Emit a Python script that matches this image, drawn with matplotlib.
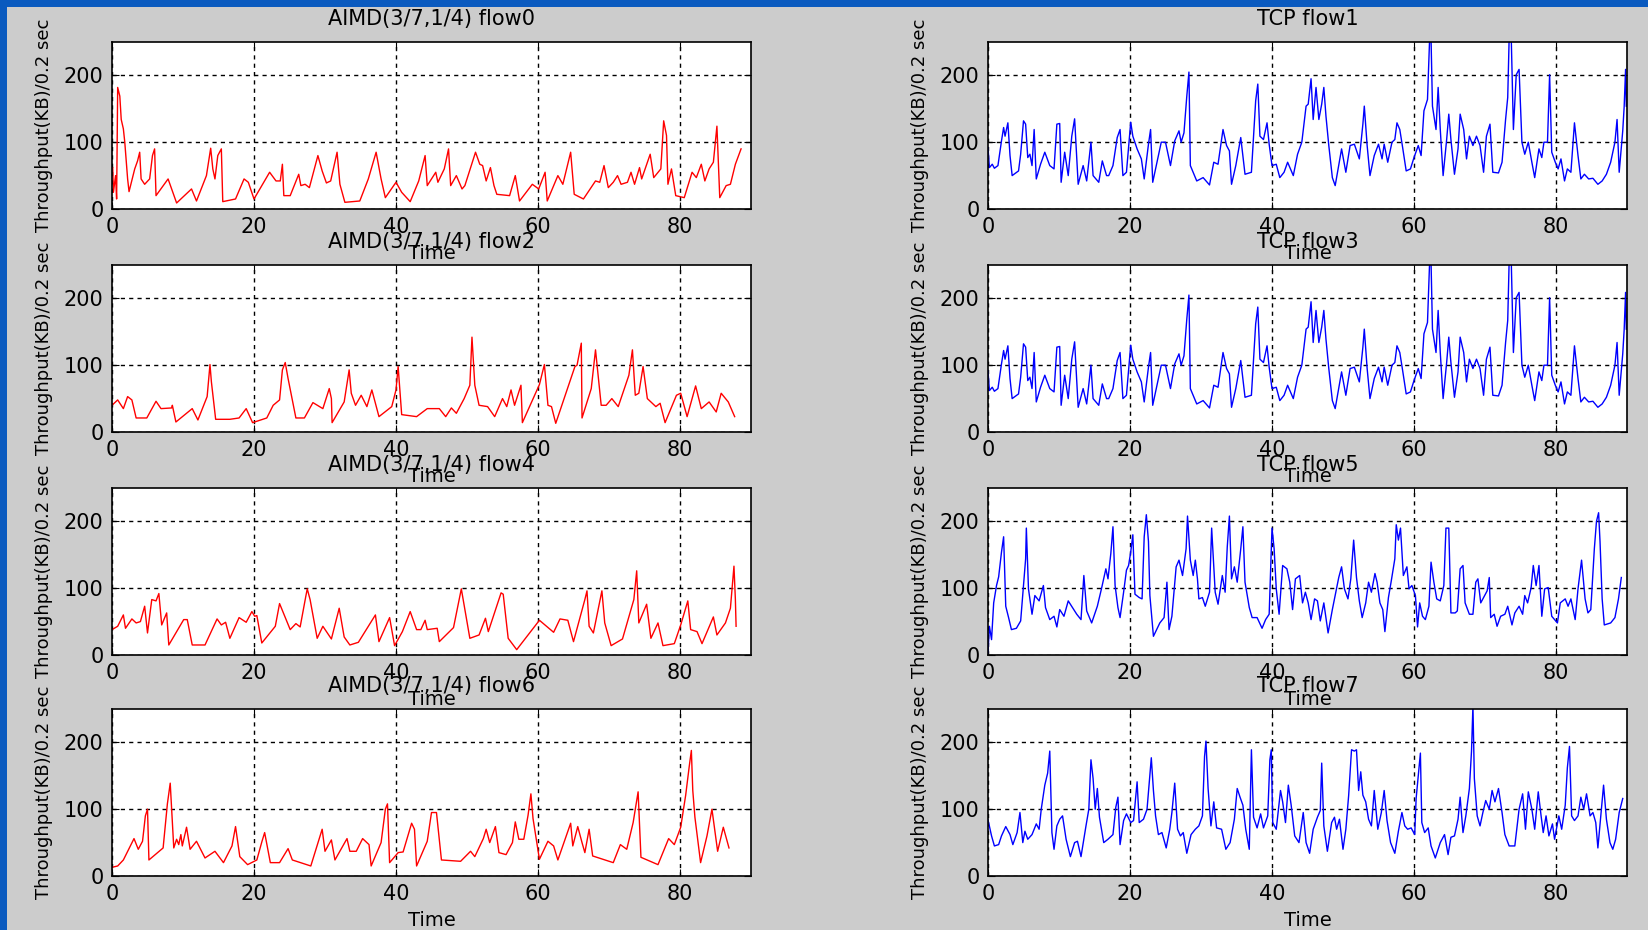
import numpy as np
import matplotlib.pyplot as plt
from matplotlib.patches import Rectangle

plt.rcParams['font.family'] = ['DejaVu Sans']

# (time [s], throughput [KB per 0.2 s]) vertices for each flow
aimd_flow0 = [
    (0.1, 62), (0.2, 25), (0.5, 50), (0.65, 15), (0.8, 182), (1.1, 169), (1.3, 134), (1.6, 120),
    (1.8, 100), (2.2, 45), (2.4, 26), (3.2, 60), (3.6, 72), (3.9, 85), (4.1, 45), (4.6, 37),
    (5.3, 45), (5.7, 80), (6.0, 90), (6.2, 20), (7.9, 45), (9.1, 9), (11.2, 30), (11.9, 12),
    (13.3, 50), (13.9, 91), (14.2, 60), (14.5, 45), (14.9, 80), (15.4, 90), (15.6, 11), (17.4, 15),
    (18.6, 45), (19.2, 40), (20.0, 15), (22.2, 55), (23.1, 42), (23.7, 42), (24.0, 67), (24.2, 20),
    (25.1, 20), (26.3, 52), (26.6, 35), (27.2, 37), (27.8, 32), (29.0, 80), (29.6, 57), (30.2, 39),
    (30.8, 42), (31.7, 85), (32.1, 37), (32.8, 10), (34.9, 12), (36.1, 45), (37.2, 85), (37.9, 45),
    (38.5, 17), (40.0, 40), (40.8, 25), (42.0, 11), (43.2, 42), (44.1, 80), (44.4, 35), (45.6, 55),
    (45.9, 40), (46.8, 60), (47.4, 90), (47.7, 35), (48.5, 50), (49.3, 30), (49.7, 35), (51.2, 85),
    (51.8, 67), (52.2, 65), (52.7, 42), (53.3, 62), (53.8, 35), (54.2, 22), (56.0, 20), (56.8, 50),
    (57.4, 12), (59.2, 37), (60.1, 30), (61.0, 55), (61.3, 12), (62.8, 50), (63.5, 37), (64.6, 85),
    (65.1, 22), (66.4, 15), (68.1, 42), (68.7, 40), (69.3, 65), (69.9, 32), (70.6, 40), (71.2, 50),
    (71.7, 37), (72.6, 40), (73.1, 55), (73.6, 37), (74.3, 62), (74.6, 45), (75.8, 82), (76.3, 47),
    (77.3, 60), (77.7, 132), (78.1, 110), (78.3, 37), (78.8, 60), (79.4, 20), (80.6, 17), (81.7, 55),
    (82.3, 47), (83.0, 67), (83.5, 42), (84.1, 60), (84.7, 70), (85.2, 124), (85.6, 17), (86.5, 35),
    (87.1, 37), (87.8, 67), (88.6, 90),
]

aimd_flow2 = [
    (0.0, 40), (0.8, 48), (1.6, 35), (2.2, 53), (2.8, 48), (3.4, 21), (4.9, 21), (6.2, 46),
    (6.9, 35), (8.4, 36), (8.5, 40), (9.0, 15), (11.3, 35), (12.1, 18), (13.4, 53), (13.8, 101),
    (14.0, 75), (14.6, 19), (16.6, 19), (17.9, 21), (18.9, 35), (19.8, 14), (21.8, 21), (22.7, 40),
    (23.6, 48), (24.0, 93), (24.4, 104), (24.8, 80), (25.9, 21), (27.1, 21), (28.3, 44), (29.7, 35),
    (30.6, 65), (30.9, 50), (31.0, 14), (32.7, 45), (33.4, 93), (33.7, 58), (34.3, 40), (35.1, 55),
    (35.9, 38), (36.6, 63), (37.6, 23), (39.4, 38), (40.0, 63), (40.3, 98), (40.8, 26), (42.9, 23),
    (44.4, 35), (46.1, 35), (47.0, 23), (47.8, 36), (48.5, 28), (49.6, 50), (50.4, 70), (50.7, 142),
    (51.1, 70), (51.7, 40), (52.9, 38), (53.9, 23), (55.0, 50), (55.6, 38), (56.2, 63), (56.7, 40),
    (57.6, 70), (57.8, 14), (60.2, 71), (60.9, 101), (61.4, 40), (61.9, 38), (62.5, 13), (65.2, 98),
    (65.5, 100), (66.1, 133), (66.2, 21), (67.5, 65), (68.1, 123), (68.9, 40), (69.6, 40), (70.4, 50),
    (71.3, 38), (72.8, 85), (73.3, 123), (73.7, 55), (74.2, 58), (74.8, 98), (75.4, 50), (76.6, 38),
    (77.2, 43), (77.9, 14), (79.5, 55), (80.1, 58), (81.0, 23), (82.2, 69), (83.0, 35), (84.1, 45),
    (85.1, 30), (85.8, 58), (86.8, 45), (87.7, 23),
]

aimd_flow4 = [
    (0.0, 38), (0.8, 43), (1.6, 60), (1.9, 40), (2.8, 54), (3.4, 48), (4.0, 50), (4.6, 73),
    (5.0, 33), (5.6, 83), (6.2, 81), (6.6, 92), (7.0, 45), (7.7, 63), (8.0, 15), (10.1, 53),
    (10.6, 53), (11.3, 15), (13.1, 15), (14.8, 54), (15.4, 45), (16.0, 49), (16.6, 25), (17.9, 56),
    (18.9, 49), (19.7, 65), (20.1, 58), (20.4, 59), (21.1, 18), (23.0, 43), (23.6, 77), (25.1, 38),
    (25.9, 47), (26.5, 42), (27.3, 88), (27.5, 99), (27.9, 83), (28.9, 25), (29.7, 43), (30.9, 24),
    (32.0, 70), (32.7, 27), (33.5, 15), (34.7, 19), (37.1, 60), (37.6, 20), (39.1, 56), (39.8, 14),
    (40.9, 35), (42.0, 65), (42.9, 38), (43.5, 38), (44.1, 52), (44.4, 38), (45.8, 40), (46.1, 20),
    (48.1, 41), (49.2, 99), (50.4, 25), (51.7, 30), (52.6, 55), (53.0, 35), (54.8, 93), (55.1, 91),
    (55.8, 25), (57.0, 8), (60.2, 52), (62.2, 34), (63.1, 54), (64.2, 52), (65.0, 20), (66.6, 83),
    (66.9, 96), (67.2, 43), (67.8, 33), (69.0, 96), (69.4, 48), (70.3, 14), (71.9, 24), (73.5, 83),
    (73.9, 126), (74.2, 48), (75.3, 76), (75.9, 25), (76.9, 48), (77.6, 14), (79.2, 17), (80.1, 45),
    (81.1, 81), (81.5, 38), (82.4, 35), (83.1, 17), (84.7, 57), (85.2, 30), (86.4, 48), (87.1, 70),
    (87.6, 133), (87.8, 83), (87.9, 43),
]

aimd_flow6 = [
    (0.0, 13), (0.8, 15), (1.6, 24), (3.1, 56), (3.7, 40), (4.3, 52), (4.7, 90), (5.0, 100),
    (5.2, 24), (7.2, 42), (7.8, 108), (8.2, 139), (8.7, 42), (9.1, 55), (9.4, 47), (9.7, 62),
    (9.9, 45), (10.5, 73), (11.0, 40), (11.9, 52), (13.1, 27), (14.5, 37), (15.7, 20), (16.9, 45),
    (17.4, 74), (18.0, 29), (19.1, 17), (20.4, 24), (21.1, 51), (21.5, 65), (22.3, 20), (23.6, 20),
    (24.8, 41), (25.4, 24), (28.0, 15), (29.6, 70), (30.0, 37), (30.9, 54), (31.4, 24), (33.1, 56),
    (33.5, 37), (34.4, 37), (35.3, 56), (36.2, 47), (36.5, 15), (37.9, 50), (38.5, 100), (38.8, 108),
    (39.1, 20), (40.3, 35), (41.0, 36), (42.2, 79), (42.6, 70), (42.9, 15), (44.4, 52), (45.0, 95),
    (45.7, 95), (46.4, 24), (49.1, 22), (50.5, 37), (51.1, 29), (52.3, 56), (52.7, 70), (53.2, 50),
    (54.0, 74), (54.5, 35), (55.5, 32), (56.4, 50), (56.8, 81), (57.3, 55), (58.0, 55), (58.6, 91),
    (59.0, 123), (59.3, 86), (60.2, 25), (61.4, 52), (62.2, 45), (62.8, 24), (64.6, 79), (64.9, 45),
    (65.6, 74), (66.2, 50), (66.6, 35), (67.2, 70), (67.7, 30), (70.6, 20), (71.6, 47), (72.5, 40),
    (73.4, 80), (74.1, 126), (74.5, 28), (76.9, 17), (78.4, 56), (79.2, 47), (80.1, 73), (80.8, 121),
    (81.3, 164), (81.6, 188), (81.8, 128), (82.1, 88), (82.9, 20), (83.8, 60), (84.5, 100), (85.3, 37),
    (86.1, 73), (86.9, 42),
]

tcp_flow1 = [
    (0.0, 92), (0.2, 62), (0.6, 67), (0.9, 61), (1.4, 65), (1.9, 102), (2.2, 122), (2.4, 109),
    (2.8, 129), (3.1, 80), (3.4, 50), (4.3, 57), (4.6, 82), (5.0, 132), (5.3, 127), (5.6, 77),
    (5.9, 82), (6.2, 65), (6.5, 119), (6.8, 45), (7.4, 67), (8.0, 85), (8.7, 65), (9.3, 60),
    (9.7, 127), (10.1, 128), (10.3, 40), (10.8, 85), (11.3, 50), (11.8, 109), (12.2, 135), (12.7, 37),
    (13.4, 65), (13.9, 42), (14.5, 100), (14.8, 50), (15.6, 40), (16.1, 72), (16.7, 50), (17.0, 50),
    (17.6, 65), (18.2, 107), (18.6, 119), (19.0, 50), (19.5, 55), (20.1, 130), (20.4, 109), (21.0, 90),
    (21.6, 75), (22.0, 45), (22.6, 97), (22.9, 119), (23.2, 40), (23.8, 70), (24.4, 100), (25.0, 100),
    (25.7, 65), (26.3, 102), (26.9, 117), (27.2, 100), (27.6, 114), (28.0, 169), (28.3, 205), (28.5, 65),
    (29.4, 42), (30.3, 47), (31.2, 36), (31.8, 70), (32.4, 67), (33.1, 119), (33.6, 95), (34.0, 87),
    (34.3, 37), (34.9, 65), (35.6, 107), (36.2, 52), (37.1, 55), (37.7, 162), (38.0, 187), (38.3, 109),
    (38.8, 104), (39.3, 129), (39.6, 97), (40.0, 65), (40.6, 67), (41.1, 47), (41.7, 55), (42.2, 70),
    (43.0, 50), (43.6, 82), (44.2, 100), (44.8, 154), (45.1, 157), (45.5, 195), (45.8, 134), (46.2, 182),
    (46.6, 134), (47.0, 157), (47.3, 182), (47.6, 139), (48.0, 95), (48.5, 47), (48.9, 35), (49.8, 90),
    (50.4, 55), (51.0, 95), (51.6, 97), (52.3, 75), (52.8, 127), (53.0, 154), (53.4, 95), (53.8, 50),
    (54.4, 80), (55.0, 97), (55.5, 75), (55.8, 97), (56.3, 70), (56.9, 100), (57.3, 104), (57.6, 129),
    (58.0, 119), (58.4, 92), (58.9, 57), (59.5, 60), (60.0, 77), (60.6, 95), (61.0, 80), (61.4, 147),
    (61.9, 164), (62.2, 255), (62.4, 255), (62.6, 154), (63.1, 119), (63.4, 182), (63.7, 119), (64.1, 50),
    (64.6, 104), (64.9, 142), (65.2, 104), (65.7, 52), (66.2, 90), (66.5, 142), (67.0, 119), (67.4, 75),
    (67.8, 109), (68.3, 95), (68.8, 109), (69.3, 95), (69.8, 55), (70.2, 109), (70.7, 127), (71.1, 55),
    (71.9, 54), (72.4, 70), (72.9, 134), (73.2, 167), (73.4, 255), (73.7, 255), (74.0, 119), (74.4, 201),
    (74.8, 209), (75.2, 100), (75.6, 82), (76.1, 100), (76.6, 70), (77.0, 47), (77.6, 90), (78.0, 77),
    (78.3, 100), (78.8, 100), (79.1, 201), (79.4, 85), (79.9, 70), (80.3, 60), (80.7, 75), (81.2, 42),
    (81.6, 60), (82.1, 55), (82.6, 129), (83.1, 80), (83.5, 45), (84.0, 52), (84.6, 45), (85.2, 46),
    (85.9, 37), (86.5, 42), (87.1, 52), (87.7, 70), (88.3, 100), (88.6, 134), (88.9, 55), (89.4, 117),
    (89.6, 153), (89.8, 209), (89.9, 154),
]

# flow3 traces the same curve as flow1
tcp_flow3 = list(tcp_flow1)

tcp_flow5 = [
    (0.0, 3), (0.2, 43), (0.5, 23), (0.8, 78), (1.2, 104), (1.5, 117), (1.9, 154), (2.2, 177),
    (2.5, 73), (2.9, 56), (3.3, 38), (4.0, 40), (4.6, 51), (5.0, 104), (5.3, 144), (5.4, 190),
    (5.7, 99), (6.2, 61), (6.6, 89), (7.2, 81), (7.8, 104), (8.1, 71), (8.7, 53), (9.3, 58),
    (9.7, 42), (10.1, 68), (10.7, 58), (11.3, 81), (11.9, 71), (12.5, 61), (13.1, 53), (13.5, 119),
    (13.9, 66), (14.6, 48), (15.4, 73), (16.0, 100), (16.6, 129), (16.9, 114), (17.3, 152), (17.6, 192),
    (17.9, 104), (18.3, 71), (18.6, 56), (19.1, 94), (19.5, 127), (19.8, 134), (20.1, 154), (20.4, 180),
    (20.7, 91), (21.3, 86), (21.7, 84), (22.0, 177), (22.3, 210), (22.6, 170), (22.8, 89), (23.3, 28),
    (24.2, 48), (24.8, 56), (25.2, 109), (25.5, 38), (25.9, 58), (26.5, 132), (26.9, 142), (27.4, 119),
    (27.9, 159), (28.1, 208), (28.5, 142), (28.9, 119), (29.2, 142), (29.5, 114), (29.7, 84), (30.2, 86),
    (30.6, 73), (31.2, 94), (31.5, 190), (32.0, 94), (32.4, 76), (33.0, 119), (33.4, 94), (33.7, 162),
    (34.0, 208), (34.3, 114), (34.7, 132), (35.1, 109), (35.6, 159), (35.9, 192), (36.2, 109), (36.8, 71),
    (37.2, 56), (37.9, 56), (38.6, 40), (39.1, 53), (39.6, 61), (40.0, 190), (40.3, 159), (40.6, 99),
    (41.0, 61), (41.5, 134), (42.1, 129), (42.5, 109), (42.9, 68), (43.3, 114), (43.9, 119), (44.3, 78),
    (44.7, 94), (45.1, 78), (45.5, 53), (46.0, 84), (46.4, 81), (46.8, 51), (47.3, 78), (47.9, 33),
    (48.5, 68), (48.9, 89), (49.4, 116), (49.8, 132), (50.2, 99), (50.7, 84), (51.1, 114), (51.5, 172),
    (51.9, 116), (52.3, 81), (52.7, 56), (53.2, 78), (53.6, 109), (54.0, 94), (54.5, 122), (54.8, 109),
    (55.2, 78), (55.6, 68), (55.9, 35), (56.4, 86), (56.8, 111), (57.3, 144), (57.5, 195), (57.8, 172),
    (58.1, 190), (58.5, 119), (59.0, 132), (59.3, 99), (59.7, 104), (60.2, 89), (60.5, 42), (60.8, 78),
    (61.2, 58), (61.6, 53), (62.1, 73), (62.4, 139), (62.8, 109), (63.2, 84), (63.7, 81), (64.2, 104),
    (64.5, 190), (64.9, 190), (65.2, 63), (65.8, 63), (66.1, 66), (66.5, 129), (66.9, 134), (67.2, 78),
    (67.8, 61), (68.3, 61), (68.7, 109), (69.0, 114), (69.4, 78), (69.8, 86), (70.3, 96), (70.6, 116),
    (70.8, 56), (71.3, 61), (71.7, 43), (72.2, 58), (72.8, 61), (73.2, 73), (73.8, 45), (74.2, 63),
    (74.8, 73), (75.3, 61), (75.6, 89), (76.0, 78), (76.5, 101), (76.8, 134), (77.2, 104), (77.6, 134),
    (78.0, 58), (78.4, 99), (78.9, 101), (79.4, 58), (79.8, 53), (80.2, 48), (80.6, 78), (81.3, 84),
    (81.7, 73), (82.1, 84), (82.7, 53), (83.1, 99), (83.6, 142), (84.1, 84), (84.5, 63), (84.9, 68),
    (85.4, 159), (85.7, 200), (86.0, 213), (86.2, 170), (86.5, 84), (86.8, 45), (87.7, 48), (88.3, 56),
    (88.8, 84), (89.2, 116),
]

tcp_flow7 = [
    (0.0, 84), (0.5, 60), (0.9, 45), (1.5, 47), (1.9, 60), (2.5, 74), (3.1, 62), (3.5, 47),
    (4.1, 65), (4.5, 95), (4.9, 50), (5.2, 67), (5.6, 55), (6.2, 62), (6.8, 78), (7.2, 70),
    (7.5, 100), (8.0, 136), (8.4, 154), (8.7, 187), (9.0, 65), (9.3, 40), (9.7, 75), (10.1, 85),
    (10.5, 90), (11.0, 55), (11.6, 29), (12.2, 50), (12.6, 52), (13.1, 29), (13.8, 75), (14.2, 100),
    (14.5, 174), (14.8, 146), (15.1, 100), (15.4, 131), (15.7, 88), (16.3, 50), (16.9, 55), (17.6, 62),
    (18.0, 103), (18.3, 118), (18.6, 47), (19.1, 83), (19.5, 93), (20.1, 80), (20.5, 83), (21.0, 141),
    (21.3, 80), (21.9, 85), (22.4, 100), (23.0, 177), (23.3, 128), (23.6, 90), (24.0, 62), (24.5, 65),
    (25.1, 42), (25.6, 70), (25.9, 95), (26.3, 139), (26.7, 70), (27.1, 60), (27.5, 65), (28.0, 34),
    (28.6, 62), (29.2, 70), (29.7, 75), (30.2, 90), (30.5, 179), (30.7, 202), (31.0, 131), (31.4, 75),
    (31.8, 111), (32.2, 72), (32.9, 70), (33.5, 40), (34.1, 50), (34.7, 85), (35.1, 131), (35.5, 118),
    (35.9, 106), (36.3, 70), (36.8, 40), (37.1, 189), (37.4, 88), (37.9, 72), (38.4, 93), (38.8, 72),
    (39.4, 90), (39.7, 174), (39.9, 189), (40.1, 80), (40.6, 70), (41.2, 128), (41.5, 111), (41.9, 80),
    (42.3, 136), (42.7, 106), (43.2, 60), (43.8, 50), (44.4, 95), (44.8, 50), (45.3, 34), (45.8, 70),
    (46.4, 88), (46.8, 98), (47.0, 169), (47.3, 75), (47.8, 37), (48.4, 80), (48.8, 88), (49.1, 70),
    (49.5, 85), (50.0, 40), (50.4, 70), (50.8, 121), (51.2, 189), (51.6, 187), (51.9, 189), (52.2, 128),
    (52.5, 156), (52.8, 121), (53.2, 111), (53.6, 85), (54.0, 75), (54.4, 128), (54.9, 70), (55.4, 95),
    (55.8, 128), (56.2, 83), (56.7, 50), (57.3, 34), (57.8, 67), (58.3, 95), (58.7, 75), (59.1, 70),
    (59.6, 72), (60.1, 62), (60.3, 116), (60.7, 162), (60.9, 184), (61.1, 80), (61.5, 65), (62.0, 72),
    (62.4, 45), (63.0, 27), (63.7, 50), (64.3, 62), (64.8, 32), (65.2, 58), (65.7, 60), (66.2, 85),
    (66.5, 118), (66.9, 65), (67.3, 90), (67.8, 131), (68.1, 187), (68.3, 255), (68.5, 146), (68.9, 90),
    (69.3, 75), (69.7, 95), (70.1, 113), (70.6, 100), (71.0, 128), (71.4, 111), (71.9, 131), (72.4, 95),
    (72.8, 62), (73.4, 45), (74.2, 45), (74.8, 100), (75.3, 123), (75.7, 70), (76.1, 126), (76.6, 100),
    (77.0, 70), (77.5, 126), (77.9, 90), (78.2, 65), (78.6, 90), (79.0, 60), (79.5, 78), (79.8, 55),
    (80.4, 90), (80.8, 70), (81.3, 106), (81.6, 162), (81.9, 194), (82.2, 90), (82.6, 83), (83.1, 90),
    (83.5, 118), (83.9, 100), (84.3, 123), (84.8, 90), (85.2, 95), (85.6, 80), (85.9, 42), (86.4, 100),
    (86.7, 136), (87.1, 85), (87.6, 50), (88.0, 40), (88.4, 55), (88.9, 95), (89.4, 116),
]

panels = [
    (aimd_flow0, 'AIMD(3/7,1/4) flow0', 'red'),
    (tcp_flow1, 'TCP flow1', 'blue'),
    (aimd_flow2, 'AIMD(3/7,1/4) flow2', 'red'),
    (tcp_flow3, 'TCP flow3', 'blue'),
    (aimd_flow4, 'AIMD(3/7,1/4) flow4', 'red'),
    (tcp_flow5, 'TCP flow5', 'blue'),
    (aimd_flow6, 'AIMD(3/7,1/4) flow6', 'red'),
    (tcp_flow7, 'TCP flow7', 'blue'),
]

W, H = 1648, 930
fig = plt.figure(figsize=(W / 100, H / 100), dpi=100, facecolor='#cccccc')

# blue slide frame along the top and left edges
fig.patches.append(Rectangle((0, 1 - 7 / H), 1, 7 / H, transform=fig.transFigure,
                             facecolor='#0a5abf', edgecolor='none', zorder=0))
fig.patches.append(Rectangle((0, 0), 7 / W, 1, transform=fig.transFigure,
                             facecolor='#0a5abf', edgecolor='none', zorder=0))

col_left = [112 / W, 988 / W]
row_top = [42, 265, 488, 709]
ax_w, ax_h = 639 / W, 167 / H

for k, (trace, title, color) in enumerate(panels):
    row, col = divmod(k, 2)
    ax = fig.add_axes([col_left[col], 1 - (row_top[row] + 167) / H, ax_w, ax_h])
    t, kb = np.array(trace).T
    ax.plot(t, kb, color=color, linewidth=1.0)

    ax.set_xlim(0, 90)
    ax.set_ylim(0, 250)
    ax.set_xticks([0, 20, 40, 60, 80])
    ax.set_yticks([0, 100, 200])
    ax.grid(True, color='black', linestyle=(0, (3, 3)), linewidth=1.0)
    ax.tick_params(direction='in', length=5, labelsize=15, top=True, right=True, pad=6)
    for s in ax.spines.values():
        s.set_linewidth(1.2)

    ax.set_title(title, fontsize=15, pad=12)
    ax.set_xlabel('Time', fontsize=14, labelpad=5)
    ax.set_ylabel('Throughput(KB)/0.2 sec', fontsize=13, labelpad=8)

fig.savefig('out.png', dpi=100, facecolor=fig.get_facecolor())
